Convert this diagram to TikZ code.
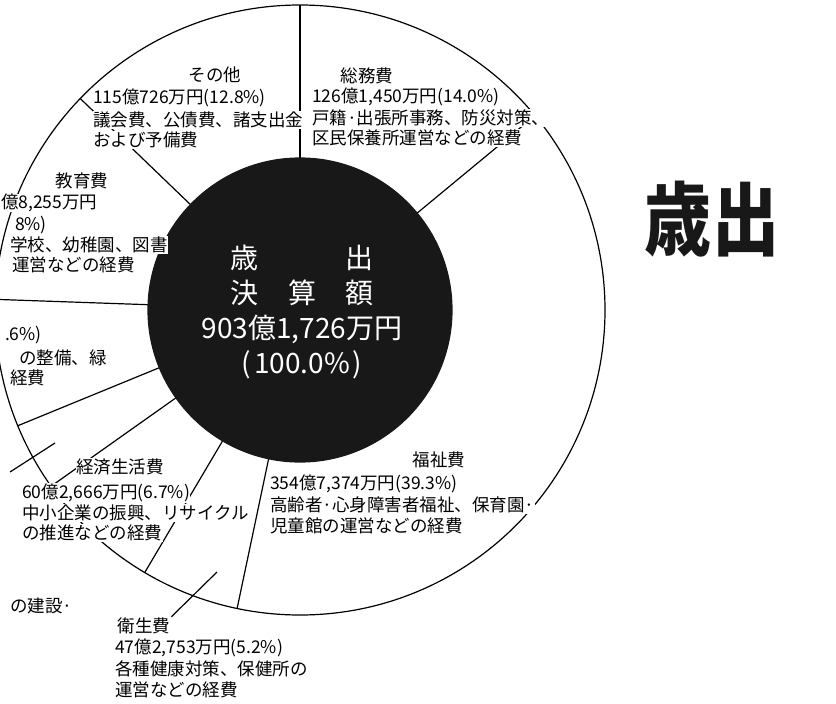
\documentclass[tikz,border=0pt]{standalone}
\usepackage{fontspec}
\newfontfamily\jpfont{Noto Sans CJK JP}
\definecolor{ink}{RGB}{24,24,24}
\tikzset{
  lbl/.style={font=\jpfont\fontsize{17.5}{20}\selectfont, fill=white, inner sep=0.5pt, anchor=west},
  ttl/.style={lbl, anchor=center},
  mid/.style={font=\jpfont\fontsize{28}{35}\selectfont, text=white, align=center}
}
\begin{document}
\begin{tikzpicture}[x=1pt,y=-1pt,line width=1.2pt]
\useasboundingbox (0,0) rectangle (836,704);
% pie: outer ring, sector borders, black centre
\begin{scope}[shift={(300,310)}]
\draw (0,0) circle[radius=305];
\foreach \a in {-90,-39.6,101.9,120.6,144.7,157.7,182,223.9}
\draw (\a:150) -- (\a:305);
\filldraw[ink] (0,0) circle[radius=152];
\end{scope}
\node[mid] (total) at (302,312) {歳\hspace{3.1em}出\\決\hspace{1.05em}算\hspace{1.05em}額\\903億1,726万円\\(\hspace{3pt}100.0\%\hspace{3pt})};
\node[font=\jpfont\bfseries\fontsize{80}{80}\selectfont, xscale=.84, text=ink] (title) at (712,219) {歳出};
% sector labels
\node[ttl] (sonota) at (215,75) {その他};
\node[lbl] (sonota1) at (92,98) {115億726万円(12.8\%)};
\node[lbl] (sonota2) at (92,120) {議会費、公債費、諸支出金};
\node[lbl] (sonota3) at (92,140) {および予備費};
\node[ttl] (somu) at (367,76) {総務費};
\node[lbl] (somu1) at (311,97) {126億1,450万円(14.0\%)};
\node[lbl] (somu2) at (311,118) {戸籍·出張所事務、防災対策、};
\node[lbl] (somu3) at (311,138) {区民保養所運営などの経費};
\node[ttl] (kyoiku) at (82,181) {教育費};
\node[lbl] (kyoiku1) at (0,203) {億8,255万円};
\node[lbl] (kyoiku2) at (14,225) {8\%)};
\node[lbl] (kyoiku3) at (9,245) {学校、幼稚園、図書};
\node[lbl] (kyoiku4) at (11,265) {運営などの経費};
\node[lbl] (doboku1) at (4,335) {.6\%)};
\node[lbl] (doboku2) at (18,358) {の整備、緑};
\node[lbl] (doboku3) at (9,378) {経費};
\node[ttl] (keizai) at (120,467) {経済生活費};
\node[lbl] (keizai1) at (21,493) {60億2,666万円(6.7\%)};
\node[lbl] (keizai2) at (21,513) {中小企業の振興、リサイクル};
\node[lbl] (keizai3) at (21,533) {の推進などの経費};
\node[ttl] (fukushi) at (439,460) {福祉費};
\node[lbl] (fukushi1) at (269,484) {354億7,374万円(39.3\%)};
\node[lbl] (fukushi2) at (269,505) {高齢者·心身障害者福祉、保育園·};
\node[lbl] (fukushi3) at (269,526) {児童館の運営などの経費};
\node[ttl] (eisei) at (144,626) {衛生費};
\node[lbl] (eisei1) at (114,648) {47億2,753万円(5.2\%)};
\node[lbl] (eisei2) at (114,669) {各種健康対策、保健所の};
\node[lbl] (eisei3) at (114,690) {運営などの経費};
\node[lbl] (kensetsu) at (9,606) {の建設·};
% leaders
\coordinate (eiseipt) at (217,572);
\draw (eiseipt) -- (eisei.north east);
\coordinate (leftpt) at (10,472);
\coordinate (leftend) at (55,443);
\draw (leftpt) -- (leftend);
\end{tikzpicture}
\end{document}
